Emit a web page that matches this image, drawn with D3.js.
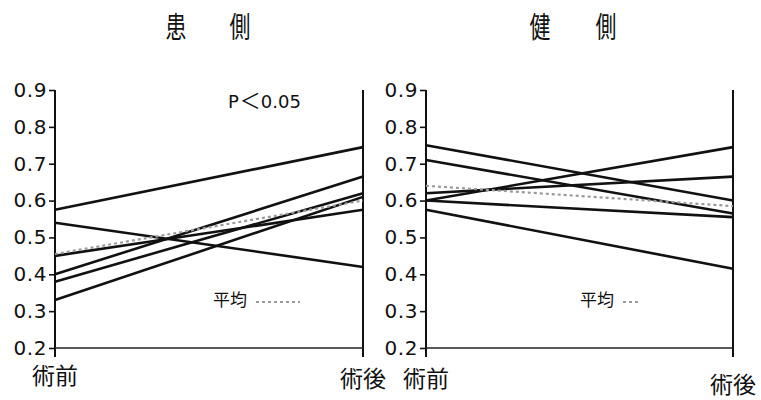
<!DOCTYPE html>
<html>
<head>
<meta charset="utf-8">
<script src="https://cdn.jsdelivr.net/npm/d3@7"></script>
<style>
  html, body { margin: 0; padding: 0; background: #fff; }
  svg { display: block; }
  .cjk { font-family: "Noto Sans CJK JP", "Noto Sans CJK SC", sans-serif; }
  .num { font-family: "DejaVu Sans", Verdana, sans-serif; }
</style>
</head>
<body>
<svg id="chart" width="761" height="400"></svg>
<script>
// Time points on the x axis
const phases = ["術前", "術後"];
// Y axis ticks
const yTicks = [0.2, 0.3, 0.4, 0.5, 0.6, 0.7, 0.8, 0.9];

// Affected side: each patient's value before / after surgery
const affectedPre  = [0.575, 0.54, 0.45, 0.40, 0.38, 0.33];
const affectedPost = [0.745, 0.42, 0.575, 0.665, 0.62, 0.61];
const affectedMean = [0.455, 0.60];

// Healthy side
const healthyPre  = [0.75, 0.71, 0.62, 0.60, 0.60, 0.575];
const healthyPost = [0.60, 0.565, 0.665, 0.745, 0.555, 0.415];
const healthyMean = [0.64, 0.585];

const panelTitles = [["患", "側"], ["健", "側"]];
const pNote = ["P", "＜", "0.05"];
const meanLabel = "平均";

const svg = d3.select("#chart");
const y = d3.scaleLinear().domain([0.2, 0.9]).range([348, 90]);

const panels = [
  { title: panelTitles[0], pre: affectedPre, post: affectedPost, mean: affectedMean,
    range: [55, 363], titleX: [176, 240], note: pNote,
    legend: { x: 213, dashLen: 44 }, labelDy: [0, 3] },
  { title: panelTitles[1], pre: healthyPre, post: healthyPost, mean: healthyMean,
    range: [426, 733], titleX: [540, 606], note: null,
    legend: { x: 580, dashLen: 16 }, labelDy: [3, 9] }
];

panels.forEach(p => {
  const x = d3.scalePoint().domain(phases).range(p.range);
  const g = svg.append("g");

  // Title characters, narrow and widely spaced
  p.title.forEach((ch, i) => {
    g.append("text")
      .attr("class", "cjk")
      .attr("transform", `translate(${p.titleX[i]},38) scale(0.72,1)`)
      .attr("text-anchor", "middle")
      .attr("font-size", 29)
      .attr("fill", "#111")
      .text(ch);
  });

  // Left axis with ticks
  const axis = d3.axisLeft(y).tickValues(yTicks).tickFormat(d3.format(".1f"))
    .tickSize(6).tickPadding(2);
  const ax = g.append("g")
    .attr("transform", `translate(${x(phases[0])},0)`)
    .call(axis);
  ax.select(".domain").remove();
  ax.selectAll(".tick line").attr("stroke", "#111").attr("stroke-width", 1.6);
  ax.selectAll(".tick text")
    .attr("class", "num")
    .attr("font-size", 20)
    .attr("letter-spacing", 0.6)
    .attr("fill", "#111");

  // Vertical axis lines at both time points
  phases.forEach(ph => {
    g.append("line")
      .attr("x1", x(ph)).attr("x2", x(ph))
      .attr("y1", y(0.9)).attr("y2", y(0.2) + 9)
      .attr("stroke", "#111").attr("stroke-width", 2);
  });

  // Baseline along 0.2
  g.append("line")
    .attr("x1", x(phases[0])).attr("x2", x(phases[1]))
    .attr("y1", y(0.2)).attr("y2", y(0.2))
    .attr("stroke", "#222").attr("stroke-width", 1.5);

  // Time point labels
  phases.forEach((ph, i) => {
    g.append("text")
      .attr("class", "cjk")
      .attr("x", x(ph))
      .attr("y", y(0.2) + 36 + p.labelDy[i])
      .attr("text-anchor", "middle")
      .attr("font-size", 23)
      .attr("fill", "#111")
      .text(ph);
  });

  // Patient lines
  const line = d3.line().x(d => x(d[0])).y(d => y(d[1]));
  const pairs = p.pre.map((v, i) => [[phases[0], v], [phases[1], p.post[i]]]);
  g.selectAll("path.patient").data(pairs).join("path")
    .attr("class", "patient")
    .attr("d", line)
    .attr("fill", "none")
    .attr("stroke", "#111")
    .attr("stroke-width", 2.6);

  // Mean line, dotted grey
  g.append("path")
    .datum([[phases[0], p.mean[0]], [phases[1], p.mean[1]]])
    .attr("d", line)
    .attr("fill", "none")
    .attr("stroke", "#9a9a9a")
    .attr("stroke-width", 2.2)
    .attr("stroke-dasharray", "3,3");

  // Significance note
  if (p.note) {
    const t = g.append("text")
      .attr("x", 228).attr("y", 108)
      .attr("font-size", 18)
      .attr("fill", "#111");
    t.append("tspan").attr("class", "num").text(p.note[0]);
    t.append("tspan").attr("class", "cjk").attr("font-size", 21).attr("dx", 1).text(p.note[1]);
    t.append("tspan").attr("class", "num").text(p.note[2]);
  }

  // Legend for the mean line
  g.append("text")
    .attr("class", "cjk")
    .attr("x", p.legend.x).attr("y", 306)
    .attr("font-size", 17)
    .attr("fill", "#111")
    .text(meanLabel);
  g.append("line")
    .attr("x1", p.legend.x + 43).attr("x2", p.legend.x + 43 + p.legend.dashLen)
    .attr("y1", 302).attr("y2", 302)
    .attr("stroke", "#9a9a9a")
    .attr("stroke-width", 2)
    .attr("stroke-dasharray", "3,3");
});
</script>
</body>
</html>
